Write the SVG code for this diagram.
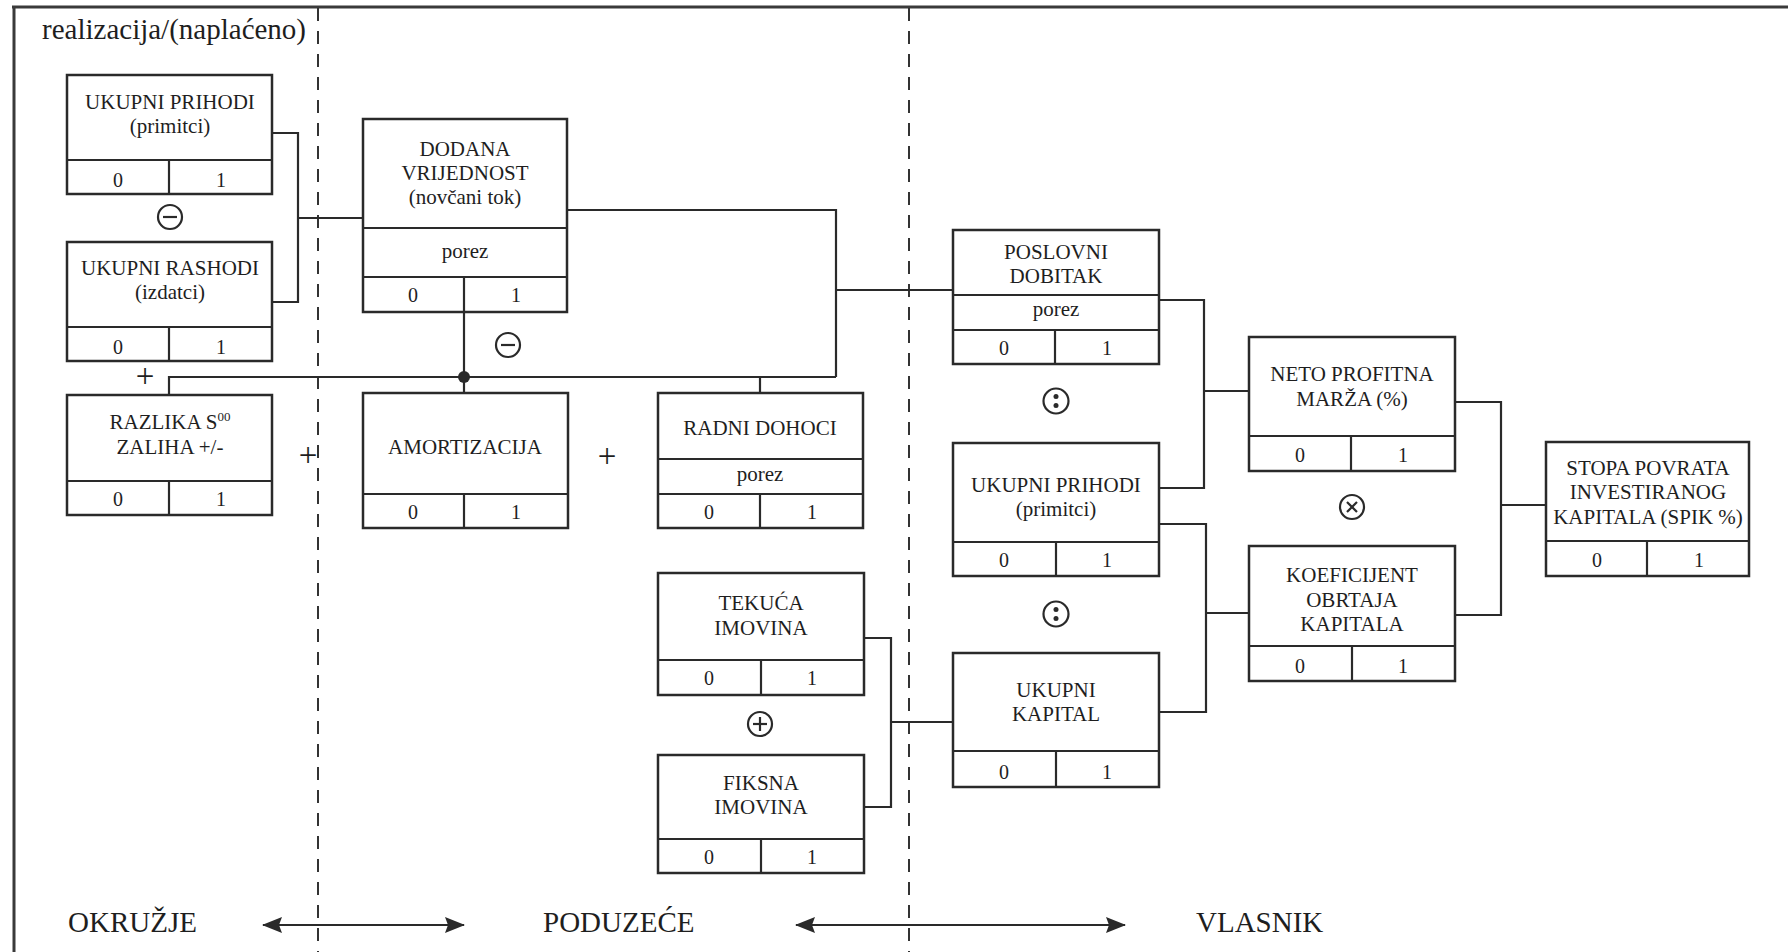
<svg xmlns="http://www.w3.org/2000/svg" width="1788" height="952" viewBox="0 0 1788 952">
<style>
.bx{fill:none;stroke:#2a2a2a;stroke-width:2.5}
.dv{stroke:#2a2a2a;stroke-width:2.2}
.t{font-family:"Liberation Serif","Times New Roman",serif;font-size:21px;fill:#1e1e1e;text-anchor:middle}
.n{font-family:"Liberation Serif","Times New Roman",serif;font-size:20px;fill:#1e1e1e;text-anchor:middle}
.big{font-family:"Liberation Serif","Times New Roman",serif;font-size:29px;fill:#1e1e1e}
.pl{font-family:"Liberation Serif","Times New Roman",serif;font-size:33px;fill:#1e1e1e;text-anchor:middle}
.cn{fill:none;stroke:#2a2a2a;stroke-width:2.2}
.dash{stroke:#333;stroke-width:2;stroke-dasharray:13 10}
.op{fill:#fff;stroke:#2a2a2a;stroke-width:2.2}
.opl{stroke:#2a2a2a;stroke-width:2.2}
</style>
<defs>
<marker id="ah" viewBox="0 0 20 16" refX="19" refY="8" markerWidth="20" markerHeight="16" markerUnits="userSpaceOnUse" orient="auto-start-reverse">
<path d="M0,0 L20,8 L0,16 L3,8 Z" fill="#2a2a2a"/>
</marker>
</defs>
<rect width="1788" height="952" fill="#fff"/>
<g id="frame">
<line x1="12" y1="7" x2="1788" y2="7" stroke="#3a3a3a" stroke-width="3"/>
<line x1="14" y1="6" x2="14" y2="952" stroke="#3a3a3a" stroke-width="3"/>
<line class="dash" x1="318" y1="8" x2="318" y2="952"/>
<line class="dash" x1="909" y1="8" x2="909" y2="952"/>
<text class="big" x="42" y="39" font-size="28">realizacija/(naplaćeno)</text>
</g>
<g id="connectors">
<polyline class="cn" points="272,133 298,133 298,302 272,302"/>
<line class="cn" x1="298" y1="218" x2="363" y2="218"/>
<polyline class="cn" points="567,210 836,210 836,377"/>
<line class="cn" x1="169" y1="377" x2="836" y2="377"/>
<line class="cn" x1="169" y1="376" x2="169" y2="395"/>
<line class="cn" x1="464" y1="312" x2="464" y2="393"/>
<line class="cn" x1="760" y1="377" x2="760" y2="393"/>
<line class="cn" x1="836" y1="290" x2="953" y2="290"/>
<circle cx="464" cy="377" r="6" fill="#2a2a2a"/>
<polyline class="cn" points="1159,300 1204,300 1204,488 1159,488"/>
<line class="cn" x1="1204" y1="391" x2="1249" y2="391"/>
<polyline class="cn" points="1159,524 1206,524 1206,712 1159,712"/>
<line class="cn" x1="1206" y1="613" x2="1249" y2="613"/>
<polyline class="cn" points="1455,402 1501,402 1501,615 1455,615"/>
<line class="cn" x1="1501" y1="505" x2="1546" y2="505"/>
<polyline class="cn" points="864,638 891,638 891,807 864,807"/>
<line class="cn" x1="891" y1="722" x2="953" y2="722"/>
<line class="cn" x1="263" y1="925" x2="464" y2="925" marker-start="url(#ah)" marker-end="url(#ah)"/>
<line class="cn" x1="796" y1="925" x2="1125" y2="925" marker-start="url(#ah)" marker-end="url(#ah)"/>
</g>
<g id="operators">
<g id="op-minus1"><circle class="op" cx="170" cy="217" r="12"/><line class="opl" x1="163" y1="217" x2="177" y2="217"/></g>
<g id="op-minus2"><circle class="op" cx="508" cy="345" r="12"/><line class="opl" x1="501" y1="345" x2="515" y2="345"/></g>
<g id="op-plus"><circle class="op" cx="760" cy="724" r="12"/><line class="opl" x1="753" y1="724" x2="767" y2="724"/><line class="opl" x1="760" y1="717" x2="760" y2="731"/></g>
<g id="op-times"><circle class="op" cx="1352" cy="507" r="12"/><line class="opl" x1="1347" y1="502" x2="1357" y2="512"/><line class="opl" x1="1357" y1="502" x2="1347" y2="512"/></g>
<g id="op-div1"><circle class="op" cx="1056" cy="401" r="12.5"/><circle cx="1056" cy="396.5" r="2.5" fill="#2a2a2a"/><circle cx="1056" cy="405.5" r="2.5" fill="#2a2a2a"/></g>
<g id="op-div2"><circle class="op" cx="1056" cy="614" r="12.5"/><circle cx="1056" cy="609.5" r="2.5" fill="#2a2a2a"/><circle cx="1056" cy="618.5" r="2.5" fill="#2a2a2a"/></g>
<text class="pl" x="145" y="387">+</text>
<text class="pl" x="308" y="466">+</text>
<text class="pl" x="607" y="467">+</text>
</g>
<g id="n-ukupni-prihodi-1">
<rect class="bx" x="67" y="75" width="205" height="119"/>
<line class="dv" x1="67" y1="160" x2="272" y2="160"/><line class="dv" x1="169" y1="160" x2="169" y2="194"/>
<text class="t" x="170" y="109">UKUPNI PRIHODI</text><text class="t" x="170" y="133">(primitci)</text>
<text class="n" x="118" y="187">0</text><text class="n" x="221" y="187">1</text>
</g>
<g id="n-ukupni-rashodi">
<rect class="bx" x="67" y="242" width="205" height="119"/>
<line class="dv" x1="67" y1="327" x2="272" y2="327"/><line class="dv" x1="169" y1="327" x2="169" y2="361"/>
<text class="t" x="170" y="275">UKUPNI RASHODI</text><text class="t" x="170" y="299">(izdatci)</text>
<text class="n" x="118" y="354">0</text><text class="n" x="221" y="354">1</text>
</g>
<g id="n-razlika-zaliha">
<rect class="bx" x="67" y="395" width="205" height="120"/>
<line class="dv" x1="67" y1="481" x2="272" y2="481"/><line class="dv" x1="169" y1="481" x2="169" y2="515"/>
<text class="t" x="170" y="429">RAZLIKA S<tspan font-size="13" dy="-8">00</tspan></text><text class="t" x="170" y="454">ZALIHA +/-</text>
<text class="n" x="118" y="506">0</text><text class="n" x="221" y="506">1</text>
</g>
<g id="n-dodana-vrijednost">
<rect class="bx" x="363" y="119" width="204" height="193"/>
<line class="dv" x1="363" y1="228" x2="567" y2="228"/><line class="dv" x1="363" y1="277" x2="567" y2="277"/><line class="dv" x1="464" y1="277" x2="464" y2="312"/>
<text class="t" x="465" y="156">DODANA</text><text class="t" x="465" y="180">VRIJEDNOST</text><text class="t" x="465" y="204">(novčani tok)</text>
<text class="t" x="465" y="258">porez</text>
<text class="n" x="413" y="302">0</text><text class="n" x="516" y="302">1</text>
</g>
<g id="n-amortizacija">
<rect class="bx" x="363" y="393" width="205" height="135"/>
<line class="dv" x1="363" y1="494" x2="568" y2="494"/><line class="dv" x1="464" y1="494" x2="464" y2="528"/>
<text class="t" x="465" y="454">AMORTIZACIJA</text>
<text class="n" x="413" y="519">0</text><text class="n" x="516" y="519">1</text>
</g>
<g id="n-radni-dohoci">
<rect class="bx" x="658" y="393" width="205" height="135"/>
<line class="dv" x1="658" y1="459" x2="863" y2="459"/><line class="dv" x1="658" y1="494" x2="863" y2="494"/><line class="dv" x1="760" y1="494" x2="760" y2="528"/>
<text class="t" x="760" y="435">RADNI DOHOCI</text>
<text class="t" x="760" y="481">porez</text>
<text class="n" x="709" y="519">0</text><text class="n" x="812" y="519">1</text>
</g>
<g id="n-tekuca-imovina">
<rect class="bx" x="658" y="573" width="206" height="122"/>
<line class="dv" x1="658" y1="660" x2="864" y2="660"/><line class="dv" x1="761" y1="660" x2="761" y2="695"/>
<text class="t" x="761" y="610">TEKUĆA</text><text class="t" x="761" y="635">IMOVINA</text>
<text class="n" x="709" y="685">0</text><text class="n" x="812" y="685">1</text>
</g>
<g id="n-fiksna-imovina">
<rect class="bx" x="658" y="755" width="206" height="118"/>
<line class="dv" x1="658" y1="839" x2="864" y2="839"/><line class="dv" x1="761" y1="839" x2="761" y2="873"/>
<text class="t" x="761" y="790">FIKSNA</text><text class="t" x="761" y="814">IMOVINA</text>
<text class="n" x="709" y="864">0</text><text class="n" x="812" y="864">1</text>
</g>
<g id="n-poslovni-dobitak">
<rect class="bx" x="953" y="230" width="206" height="134"/>
<line class="dv" x1="953" y1="295" x2="1159" y2="295"/><line class="dv" x1="953" y1="330" x2="1159" y2="330"/><line class="dv" x1="1055" y1="330" x2="1055" y2="364"/>
<text class="t" x="1056" y="259">POSLOVNI</text><text class="t" x="1056" y="283">DOBITAK</text>
<text class="t" x="1056" y="316">porez</text>
<text class="n" x="1004" y="355">0</text><text class="n" x="1107" y="355">1</text>
</g>
<g id="n-ukupni-prihodi-2">
<rect class="bx" x="953" y="443" width="206" height="133"/>
<line class="dv" x1="953" y1="542" x2="1159" y2="542"/><line class="dv" x1="1056" y1="542" x2="1056" y2="576"/>
<text class="t" x="1056" y="492">UKUPNI PRIHODI</text><text class="t" x="1056" y="516">(primitci)</text>
<text class="n" x="1004" y="567">0</text><text class="n" x="1107" y="567">1</text>
</g>
<g id="n-ukupni-kapital">
<rect class="bx" x="953" y="653" width="206" height="134"/>
<line class="dv" x1="953" y1="751" x2="1159" y2="751"/><line class="dv" x1="1056" y1="751" x2="1056" y2="787"/>
<text class="t" x="1056" y="697">UKUPNI</text><text class="t" x="1056" y="721">KAPITAL</text>
<text class="n" x="1004" y="779">0</text><text class="n" x="1107" y="779">1</text>
</g>
<g id="n-neto-profitna-marza">
<rect class="bx" x="1249" y="337" width="206" height="134"/>
<line class="dv" x1="1249" y1="436" x2="1455" y2="436"/><line class="dv" x1="1351" y1="436" x2="1351" y2="471"/>
<text class="t" x="1352" y="381">NETO PROFITNA</text><text class="t" x="1352" y="406">MARŽA (%)</text>
<text class="n" x="1300" y="462">0</text><text class="n" x="1403" y="462">1</text>
</g>
<g id="n-koeficijent-obrtaja">
<rect class="bx" x="1249" y="546" width="206" height="135"/>
<line class="dv" x1="1249" y1="646" x2="1455" y2="646"/><line class="dv" x1="1352" y1="646" x2="1352" y2="681"/>
<text class="t" x="1352" y="582">KOEFICIJENT</text><text class="t" x="1352" y="607">OBRTAJA</text><text class="t" x="1352" y="631">KAPITALA</text>
<text class="n" x="1300" y="673">0</text><text class="n" x="1403" y="673">1</text>
</g>
<g id="n-stopa-povrata">
<rect class="bx" x="1546" y="442" width="203" height="134"/>
<line class="dv" x1="1546" y1="541" x2="1749" y2="541"/><line class="dv" x1="1647" y1="541" x2="1647" y2="576"/>
<text class="t" x="1648" y="475">STOPA POVRATA</text><text class="t" x="1648" y="499">INVESTIRANOG</text><text class="t" x="1648" y="524">KAPITALA (SPIK %)</text>
<text class="n" x="1597" y="567">0</text><text class="n" x="1699" y="567">1</text>
</g>
<g id="labels">
<text class="big" x="68" y="932">OKRUŽJE</text>
<text class="big" x="543" y="932">PODUZEĆE</text>
<text class="big" x="1196" y="932">VLASNIK</text>
</g>
</svg>
